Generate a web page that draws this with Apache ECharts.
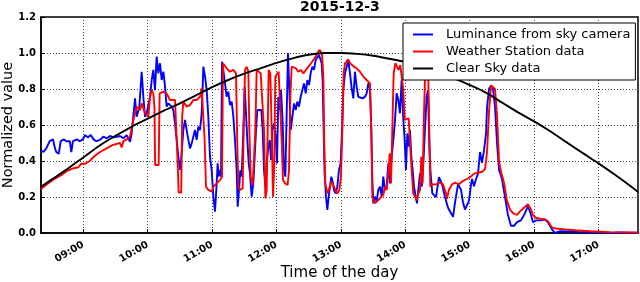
<!DOCTYPE html>
<html>
<head>
<meta charset="utf-8">
<script src="https://cdn.jsdelivr.net/npm/echarts@6/dist/echarts.min.js"></script>
<style>
html,body{margin:0;padding:0;background:#fff;}
#chart{width:640px;height:282px;}
</style>
</head>
<body>
<div id="chart"></div>
<script>
// Time of day in hours, normalized values
const titleText = '2015-12-3';
const seriesNames = ['Luminance from sky camera', 'Weather Station data', 'Clear Sky data'];
const xRange = [8.343, 17.613];
const yTicks = [0, 0.2, 0.4, 0.6, 0.8, 1.0, 1.2];

const luminance = [
[8.343,0.46],[8.38,0.45],[8.425,0.47],[8.478,0.51],[8.53,0.52],[8.56,0.47],[8.58,0.45],[8.618,0.44],[8.649,0.51],[8.70,0.52],[8.736,0.51],[8.79,0.51],[8.814,0.45],[8.84,0.51],[8.90,0.52],[8.944,0.51],[8.99,0.52],[9.03,0.544],[9.07,0.531],[9.115,0.544],[9.16,0.52],[9.20,0.51],[9.23,0.50],
[9.259,0.517],[9.311,0.535],[9.363,0.526],[9.414,0.539],[9.466,0.531],[9.518,0.535],[9.57,0.539],[9.622,0.526],[9.673,0.544],[9.725,0.507],[9.751,0.554],[9.803,0.748],[9.829,0.646],[9.87,0.702],[9.906,0.896],[9.932,0.757],[9.958,0.646],[9.984,0.665],[10.01,0.656],[10.036,0.757],[10.062,0.85],[10.087,0.906],[10.113,0.794],[10.139,0.98],[10.165,0.887],[10.191,0.943],[10.217,0.85],[10.243,0.896],[10.269,0.813],[10.294,0.702],[10.32,0.72],[10.346,0.73],[10.372,0.702],[10.398,0.683],[10.424,0.609],[10.45,0.517],[10.475,0.424],[10.501,0.35],[10.527,0.443],[10.553,0.572],[10.579,0.628],[10.605,0.572],[10.631,0.517],[10.657,0.47],[10.683,0.498],[10.708,0.535],[10.734,0.572],[10.76,0.517],[10.786,0.591],[10.812,0.572],[10.838,0.665],
[10.864,0.924],[10.89,0.869],[10.916,0.794],[10.941,0.646],[10.967,0.424],[10.993,0.35],[11.019,0.202],[11.045,0.119],[11.071,0.276],[11.086,0.387],[11.102,0.313],[11.123,0.35],[11.138,0.313],[11.154,0.952],[11.174,0.906],[11.2,0.831],[11.226,0.757],[11.252,0.785],[11.278,0.711],[11.304,0.73],[11.33,0.646],[11.355,0.517],[11.381,0.35],[11.397,0.146],[11.418,0.239],[11.438,0.35],[11.459,0.313],[11.485,0.572],[11.506,0.813],[11.526,0.665],[11.547,0.517],[11.568,0.387],[11.588,0.331],[11.614,0.202],[11.64,0.276],[11.661,0.424],[11.682,0.572],[11.702,0.683],[11.733,0.674],[11.764,0.683],[11.785,0.572],[11.806,0.35],[11.827,0.257],[11.847,0.387],[11.873,0.48],[11.894,0.517],[11.915,0.406],[11.935,0.572],[11.961,0.609],[11.987,0.535],[12.008,0.387],[12.028,0.757],[12.049,0.683],[12.07,0.794],[12.096,0.609],[12.116,0.35],[12.137,0.313],[12.158,0.665],[12.178,1.0],[12.199,0.794],[12.22,0.572],[12.246,0.646],[12.272,0.72],[12.298,0.683],[12.323,0.73],[12.349,0.702],[12.375,0.757],[12.401,0.794],[12.427,0.831],[12.453,0.776],[12.479,0.85],[12.505,0.822],[12.53,0.887],[12.556,0.924],[12.582,0.906],[12.608,0.961],[12.634,0.97],[12.66,0.989],
[12.675,0.98],[12.701,0.943],[12.716,0.85],[12.732,0.572],[12.747,0.331],[12.768,0.202],[12.789,0.128],[12.81,0.202],[12.83,0.257],[12.851,0.313],[12.872,0.285],[12.892,0.239],[12.918,0.22],[12.944,0.257],[12.97,0.35],[12.996,0.387],[13.017,0.572],[13.037,0.794],[13.063,0.887],[13.089,0.924],[13.115,0.961],[13.141,0.887],[13.167,0.804],[13.193,0.748],[13.218,0.896],[13.244,0.813],[13.27,0.757],[13.296,0.748],[13.338,0.748],[13.374,0.757],[13.4,0.776],[13.425,0.831],[13.451,0.804],[13.472,0.572],[13.488,0.294],[13.503,0.165],[13.529,0.202],[13.555,0.174],[13.581,0.239],[13.607,0.257],[13.633,0.202],[13.658,0.313],[13.684,0.239],[13.71,0.257],[13.736,0.387],[13.762,0.276],[13.788,0.424],[13.814,0.517],[13.84,0.628],[13.865,0.776],[13.891,0.739],[13.917,0.665],[13.943,0.85],[13.969,0.628],[13.99,0.517],[14.01,0.35],[14.031,0.554],[14.052,0.48],[14.073,0.572],[14.093,0.424],[14.114,0.35],[14.135,0.257],[14.161,0.202],[14.181,0.165],[14.202,0.239],[14.228,0.331],[14.254,0.257],[14.28,0.387],[14.305,0.572],[14.331,0.757],[14.352,0.794],[14.373,0.48],[14.393,0.331],[14.419,0.22],
[14.477,0.2],[14.523,0.31],[14.57,0.27],[14.616,0.2],[14.663,0.14],[14.71,0.11],[14.741,0.09],[14.772,0.17],[14.818,0.27],[14.865,0.24],[14.896,0.17],[14.927,0.13],[14.958,0.12],[14.989,0.18],[15.02,0.27],[15.036,0.3],[15.067,0.26],[15.098,0.3],[15.129,0.33],[15.16,0.45],[15.191,0.39],[15.222,0.46],[15.253,0.55],[15.269,0.7],[15.3,0.8],[15.331,0.82],[15.362,0.8],[15.393,0.7],[15.424,0.5],[15.455,0.35],[15.501,0.3],[15.548,0.2],[15.594,0.1],[15.641,0.04],[15.688,0.04],[15.734,0.06],[15.796,0.07],[15.858,0.11],[15.905,0.15],[15.952,0.1],[15.983,0.06],[16.029,0.07],[16.091,0.07],[16.169,0.075],[16.215,0.06],[16.277,0.02],[16.324,0.0],[16.402,0.01],[16.557,0.008],[16.713,0.005],[16.868,0.004],[17.023,0.005],[17.179,0.0],[17.334,0.003],[17.613,0.0]
];

const weatherStation = [
[8.343,0.245],[8.45,0.275],[8.55,0.30],[8.65,0.32],[8.75,0.345],[8.85,0.36],[8.92,0.365],[8.97,0.385],[9.03,0.385],[9.10,0.40],[9.15,0.42],[9.20,0.435],[9.26,0.45],[9.36,0.47],[9.46,0.49],[9.57,0.50],[9.596,0.475],[9.622,0.51],[9.673,0.52],[9.725,0.535],[9.777,0.628],[9.803,0.665],[9.829,0.702],[9.88,0.683],[9.906,0.72],[9.958,0.665],[10.01,0.646],[10.036,0.757],[10.062,0.794],[10.087,0.776],[10.105,0.70],[10.115,0.378],[10.17,0.378],[10.185,0.776],[10.243,0.785],[10.294,0.776],[10.346,0.739],[10.424,0.739],[10.45,0.73],[10.465,0.387],[10.48,0.225],[10.52,0.225],[10.535,0.646],[10.553,0.73],[10.605,0.702],[10.657,0.711],[10.708,0.739],[10.76,0.739],[10.812,0.757],[10.838,0.804],[10.864,0.804],[10.884,0.517],[10.905,0.257],[10.941,0.239],[10.993,0.23],[11.019,0.257],[11.071,0.276],[11.123,0.294],[11.154,0.313],[11.169,0.943],[11.2,0.943],[11.226,0.915],[11.278,0.896],[11.33,0.906],[11.371,0.887],[11.392,0.48],[11.407,0.257],[11.433,0.239],[11.474,0.248],[11.49,0.572],[11.511,0.906],[11.537,0.924],[11.563,0.896],[11.578,0.572],[11.599,0.313],[11.63,0.267],[11.656,0.276],[11.671,0.572],[11.692,0.906],[11.723,0.915],[11.754,0.887],[11.785,0.896],[11.806,0.572],[11.827,0.193],[11.847,0.239],[11.863,0.572],[11.878,0.906],[11.904,0.887],[11.925,0.572],[11.946,0.202],[11.966,0.387],[11.982,0.869],[12.008,0.869],[12.033,0.896],[12.059,0.887],[12.08,0.517],[12.101,0.294],[12.132,0.276],[12.173,0.267],[12.194,0.35],[12.215,0.757],[12.235,0.924],[12.261,0.933],[12.303,0.915],[12.339,0.896],[12.375,0.906],[12.417,0.887],[12.458,0.906],[12.494,0.924],[12.536,0.943],[12.572,0.961],[12.608,0.98],[12.634,0.998],[12.665,1.017],[12.706,0.998],[12.727,0.869],[12.742,0.48],[12.758,0.276],[12.789,0.22],[12.82,0.248],[12.851,0.285],[12.882,0.267],[12.913,0.239],[12.944,0.22],[12.975,0.239],[13.001,0.313],[13.022,0.572],[13.042,0.887],[13.063,0.943],[13.089,0.952],[13.115,0.965],[13.141,0.943],[13.172,0.943],[13.203,0.924],[13.244,0.915],[13.296,0.896],[13.348,0.869],[13.4,0.85],[13.451,0.831],[13.472,0.572],[13.488,0.202],[13.519,0.165],[13.555,0.174],[13.607,0.193],[13.658,0.211],[13.684,0.257],[13.71,0.239],[13.736,0.331],[13.757,0.443],[13.778,0.276],[13.798,0.572],[13.819,0.887],[13.845,0.943],[13.871,0.924],[13.896,0.906],[13.922,0.933],[13.948,0.924],[13.969,0.794],[13.99,0.628],[14.021,0.628],[14.052,0.637],[14.078,0.628],[14.098,0.35],[14.124,0.22],[14.15,0.202],[14.176,0.183],[14.202,0.22],[14.228,0.239],[14.248,0.424],[14.269,0.276],[14.29,0.665],[14.311,0.924],[14.331,1.017],[14.352,0.943],[14.373,0.572],[14.388,0.257],[14.414,0.27],[14.477,0.27],[14.539,0.28],[14.585,0.27],[14.632,0.22],[14.647,0.19],[14.678,0.24],[14.725,0.27],[14.772,0.28],[14.834,0.27],[14.896,0.29],[14.958,0.30],[15.004,0.31],[15.067,0.33],[15.129,0.335],[15.191,0.34],[15.238,0.355],[15.269,0.45],[15.3,0.68],[15.331,0.82],[15.362,0.83],[15.393,0.8],[15.424,0.65],[15.455,0.4],[15.486,0.34],[15.532,0.28],[15.579,0.18],[15.625,0.13],[15.672,0.11],[15.734,0.10],[15.781,0.12],[15.843,0.14],[15.905,0.16],[15.952,0.13],[15.983,0.10],[16.029,0.085],[16.091,0.08],[16.169,0.075],[16.215,0.065],[16.277,0.03],[16.34,0.025],[16.479,0.02],[16.635,0.015],[16.868,0.01],[17.179,0.005],[17.613,0.003]
];

const clearSky = [
[8.343,0.257],[8.5,0.295],[8.75,0.355],[9.0,0.42],[9.25,0.485],[9.5,0.54],[9.75,0.59],[10.0,0.635],[10.25,0.68],[10.5,0.72],[10.75,0.765],[11.0,0.81],[11.25,0.85],[11.5,0.885],[11.75,0.915],[12.0,0.945],[12.25,0.97],[12.5,0.99],[12.75,1.0],[13.0,1.0],[13.25,0.995],[13.5,0.985],[13.75,0.968],[14.0,0.95],[14.25,0.925],[14.5,0.895],[14.75,0.86],[15.0,0.822],[15.25,0.78],[15.5,0.725],[15.75,0.67],[16.0,0.62],[16.25,0.565],[16.5,0.505],[16.75,0.445],[17.0,0.387],[17.25,0.325],[17.5,0.26],[17.613,0.228]
];

const FONT = 'DejaVu Sans';
const chart = echarts.init(document.getElementById('chart'), null, {renderer: 'canvas'});

function hourLabel(v) {
  if (Math.abs(v - Math.round(v)) > 1e-6) return '';
  const h = Math.round(v);
  return (h < 10 ? '0' + h : '' + h) + ':00';
}

const gridLine = {show: true, lineStyle: {color: '#444', type: [1, 2], width: 1}};

chart.setOption({
  animation: false,
  backgroundColor: '#fff',
  title: {
    text: titleText, left: 300, top: 0, padding: 0,
    textStyle: {fontFamily: FONT, fontSize: 14, fontWeight: 'bold', color: '#000'}
  },
  grid: {left: 41, right: 2, top: 17, bottom: 49, show: true, borderColor: '#000', borderWidth: 1.5,
    containLabel: false, outerBoundsMode: 'none'},
  legend: {
    orient: 'vertical', left: 403, top: 23,
    padding: [5, 5, 5, 10], itemWidth: 20, itemHeight: 2, itemGap: 4, icon: 'rect',
    backgroundColor: '#fff', borderColor: '#000', borderWidth: 1, borderRadius: 0,
    selectedMode: false,
    data: seriesNames,
    textStyle: {fontFamily: FONT, fontSize: 13, color: '#000', padding: [0, 0, 0, 8]}
  },
  xAxis: {
    type: 'value', min: xRange[0], max: xRange[1], splitNumber: 9,
    axisLine: {show: true, lineStyle: {color: '#000', width: 1.5}},
    axisTick: {show: true, inside: true, length: 4, lineStyle: {color: '#000'}},
    axisLabel: {rotate: 30, margin: 11, showMinLabel: false, showMaxLabel: false, formatter: hourLabel,
      fontFamily: FONT, fontSize: 10, fontWeight: 'bold', color: '#000'},
    splitLine: gridLine,
    name: 'Time of the day', nameLocation: 'middle', nameGap: 33, nameMoveOverlap: false,
    nameTextStyle: {fontFamily: FONT, fontSize: 15, color: '#000'}
  },
  yAxis: {
    type: 'value', min: yTicks[0], max: yTicks[yTicks.length - 1], interval: 0.2,
    axisLine: {show: true, lineStyle: {color: '#000', width: 1.5}},
    axisTick: {show: true, inside: true, length: 4, lineStyle: {color: '#000'}},
    axisLabel: {margin: 5, formatter: v => v.toFixed(1), fontFamily: FONT, fontSize: 10, fontWeight: 'bold', color: '#000'},
    splitLine: gridLine,
    name: 'Normalized value', nameLocation: 'middle', nameGap: 25, nameMoveOverlap: false,
    nameTextStyle: {fontFamily: FONT, fontSize: 14.5, color: '#000'}
  },
  series: [
    {name: seriesNames[0], type: 'line', data: luminance, symbol: 'none', showSymbol: false, silent: true,
      lineStyle: {color: '#0000ff', width: 1.9}, itemStyle: {color: '#0000ff'}},
    {name: seriesNames[1], type: 'line', data: weatherStation, symbol: 'none', showSymbol: false, silent: true,
      lineStyle: {color: '#ff0000', width: 1.9}, itemStyle: {color: '#ff0000'}},
    {name: seriesNames[2], type: 'line', data: clearSky, symbol: 'none', showSymbol: false, silent: true, smooth: 0.3,
      lineStyle: {color: '#000000', width: 1.9}, itemStyle: {color: '#000000'}}
  ]
});
</script>
</body>
</html>
